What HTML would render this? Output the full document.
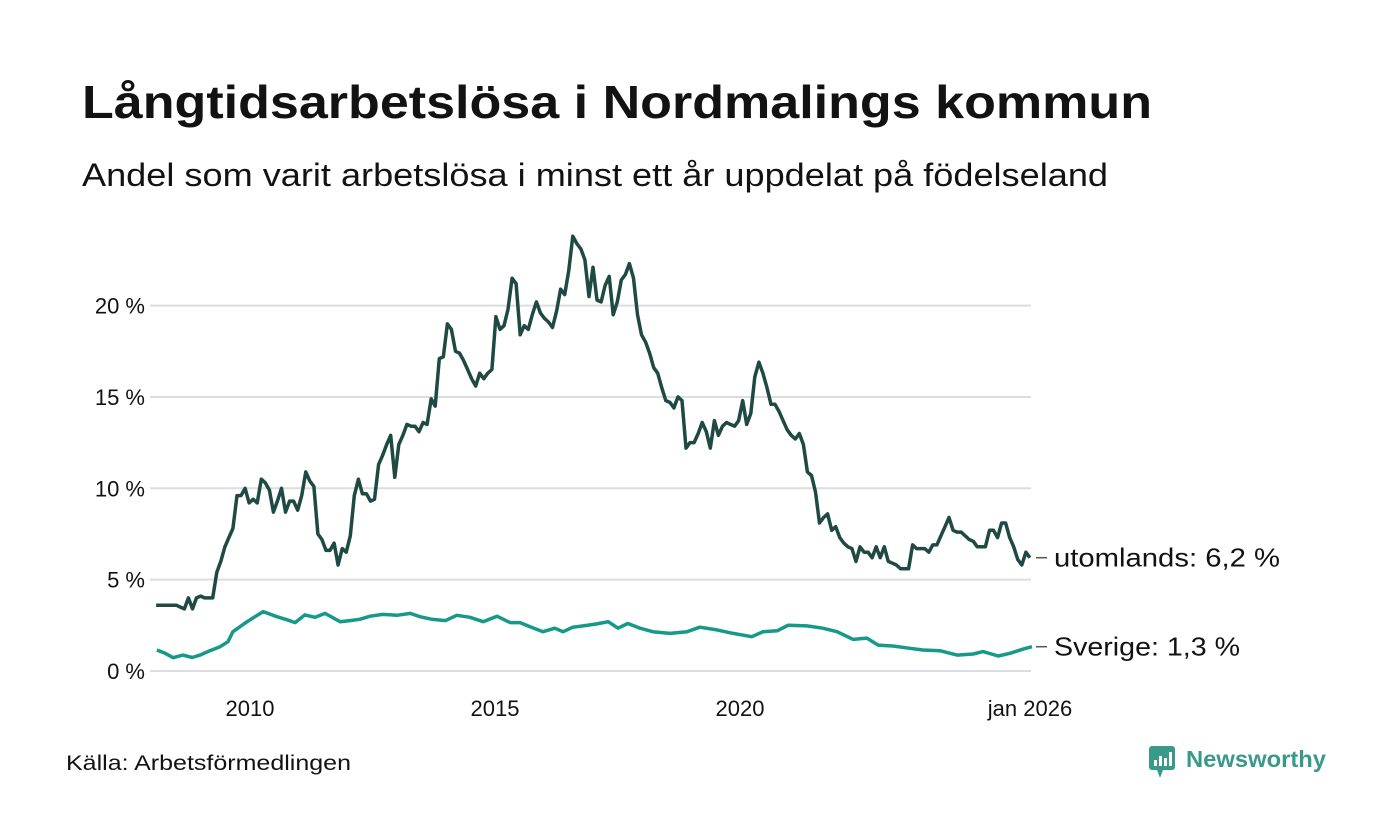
<!DOCTYPE html>
<html><head><meta charset="utf-8">
<style>
body{margin:0;background:#fff;font-family:"Liberation Sans",sans-serif;}
#wrap{position:relative;width:1400px;height:840px;overflow:hidden;background:#fff;}
</style></head>
<body>
<div id="wrap">
<svg id="chart" width="1400" height="840">
<text x="82" y="118" font-size="46" font-weight="bold" fill="#121212" textLength="1070" lengthAdjust="spacingAndGlyphs">Långtidsarbetslösa i Nordmalings kommun</text>
<text x="82" y="186" font-size="32" fill="#121212" textLength="1026" lengthAdjust="spacingAndGlyphs">Andel som varit arbetslösa i minst ett år uppdelat på födelseland</text>
<g id="grid"></g>
<g id="yticks"></g>
<g id="xticks"></g>
<g id="lines"></g>
<g id="labels"></g>
<text x="66" y="770" font-size="21" fill="#121212" textLength="285" lengthAdjust="spacingAndGlyphs">Källa: Arbetsförmedlingen</text>
<g>
<rect x="1149" y="746" width="26" height="24" rx="3" fill="#3a9a8a"/>
<polygon points="1157,770 1163,770 1160,778" fill="#3a9a8a"/>
<rect x="1154" y="760" width="3" height="6" fill="#fff"/><rect x="1159" y="756" width="3" height="10" fill="#fff"/><rect x="1164" y="758" width="3" height="8" fill="#fff"/><rect x="1169" y="752" width="3" height="14" fill="#fff"/>
<text x="1186" y="767" font-size="23" font-weight="bold" fill="#3a9a8a" textLength="140" lengthAdjust="spacingAndGlyphs">Newsworthy</text>
</g>
</svg>
</div>
<script>
const yTickValues=[0,5,10,15,20];
const yTickLabels=["0 %","5 %","10 %","15 %","20 %"];
const xTickValues=[2010,2015,2020,2026];
const xTickLabels=["2010","2015","2020","jan 2026"];
const foreignStart=2008+1/12;
const foreignEnd=2025+11/12;
const foreignValues=[3.6,3.6,3.6,3.6,3.6,3.6,3.5,3.4,4.0,3.4,4.0,4.1,4.0,4.0,4.0,
5.4,6.0,6.8,7.3,7.8,9.6,9.6,10.0,9.2,9.4,
9.2,10.5,10.3,9.9,8.7,9.3,10.0,8.7,9.3,9.3,
8.8,9.6,10.9,10.4,10.1,7.5,7.2,6.6,6.6,7.0,
5.8,6.7,6.5,7.4,9.6,10.5,9.7,9.7,9.3,9.4,
11.3,11.8,12.4,12.9,10.6,12.4,12.9,13.5,13.4,13.4,
13.1,13.6,13.5,14.9,14.5,17.1,17.2,19.0,18.7,17.5,
17.4,17.0,16.5,16.0,15.6,16.3,16.0,16.3,16.5,19.4,
18.7,18.9,19.8,21.5,21.2,18.4,18.9,18.7,19.5,20.2,
19.6,19.3,19.1,18.8,19.7,20.9,20.6,21.9,23.8,23.4,
23.1,22.5,20.5,22.1,20.3,20.2,21.1,21.6,19.5,20.2,
21.4,21.7,22.3,21.5,19.5,18.4,18.0,17.4,16.6,16.3,
15.5,14.8,14.7,14.4,15.0,14.8,12.2,12.5,12.5,13.0,
13.6,13.1,12.2,13.7,12.9,13.4,13.6,13.5,13.4,13.7,
14.8,13.5,14.1,16.1,16.9,16.3,15.5,14.6,14.6,14.2,
13.7,13.2,12.9,12.7,13.0,12.4,10.9,10.7,9.8,8.1,
8.4,8.6,7.7,7.9,7.3,7.0,6.8,6.7,6.0,6.8,
6.5,6.5,6.2,6.8,6.2,6.8,6.0,5.9,5.8,5.6,
5.6,5.6,6.9,6.7,6.7,6.7,6.5,6.9,6.9,7.4,
7.9,8.4,7.7,7.6,7.6,7.4,7.2,7.1,6.8,6.8,
6.8,7.7,7.7,7.3,8.1,8.1,7.3,6.8,6.1,5.8,
6.5,6.2];
const swedenDates=[2008.10,2008.27,2008.43,2008.63,2008.82,2008.98,2009.18,2009.39,2009.55,2009.65,
2009.94,2010.27,2010.55,2010.76,2010.92,2011.12,2011.33,2011.53,2011.84,2012.04,
2012.24,2012.45,2012.71,2013.00,2013.27,2013.47,2013.71,2013.99,2014.22,2014.49,
2014.76,2015.04,2015.31,2015.51,2015.71,2015.98,2016.22,2016.39,2016.59,2016.80,
2017.08,2017.31,2017.51,2017.71,2017.96,2018.22,2018.57,2018.92,2019.18,2019.53,
2019.86,2020.24,2020.47,2020.76,2020.98,2021.37,2021.69,2021.98,2022.31,2022.59,
2022.82,2023.12,2023.47,2023.73,2024.08,2024.43,2024.76,2024.96,2025.27,2025.51,
2025.78,2025.96];
const swedenValues=[1.15,0.97,0.73,0.87,0.74,0.87,1.11,1.33,1.6,2.15,
2.7,3.25,2.97,2.8,2.65,3.07,2.94,3.15,2.7,2.76,
2.83,3.0,3.1,3.05,3.15,2.97,2.83,2.76,3.05,2.94,
2.7,3.0,2.65,2.65,2.43,2.15,2.34,2.15,2.4,2.47,
2.58,2.7,2.34,2.6,2.34,2.15,2.06,2.15,2.4,2.25,
2.06,1.88,2.15,2.2,2.5,2.47,2.34,2.15,1.73,1.8,
1.42,1.37,1.24,1.15,1.11,0.87,0.93,1.06,0.82,0.97,
1.2,1.33];
const foreignLabel="utomlands: 6,2 %";
const swedenLabel="Sverige: 1,3 %";

const NS="http://www.w3.org/2000/svg";
function xS(t){return 250+(t-2010)*49;}
function yS(v){return 671-v*18.27;}
function mk(tag,attrs,parent){const e=document.createElementNS(NS,tag);for(const k in attrs)e.setAttribute(k,attrs[k]);parent.appendChild(e);return e;}

const grid=document.getElementById('grid'),yt=document.getElementById('yticks'),xt=document.getElementById('xticks');
yTickValues.forEach((v,i)=>{
  const l=mk('line',{x1:150,x2:1031,y1:yS(v),y2:yS(v),stroke:'#dcdce3','stroke-width':2},grid);
  
  
  const t=mk('text',{x:145,y:yS(v)+8,'font-size':22,'text-anchor':'end',fill:'#121212'},yt);
  t.textContent=yTickLabels[i];
  
  
});
xTickValues.forEach((v,i)=>{
  const t=mk('text',{x:xS(v)-(i==3?4:0),y:716,'font-size':22,'text-anchor':'middle',fill:'#121212'},xt);
  t.textContent=xTickLabels[i];
  
  
});
const lines=document.getElementById('lines');
const n=foreignValues.length;
const step=(foreignEnd-foreignStart)/(n-1);
const fp=foreignValues.map((v,i)=>xS(foreignStart+i*step).toFixed(1)+','+yS(v).toFixed(1)).join(' ');
const sp=swedenValues.map((v,i)=>xS(swedenDates[i]).toFixed(1)+','+yS(v).toFixed(1)).join(' ');
const l2=mk('polyline',{points:sp,fill:'none',stroke:'#17998a','stroke-width':3.5,'stroke-linejoin':'round'},lines);


const l1=mk('polyline',{points:fp,fill:'none',stroke:'#1f4a44','stroke-width':3.5,'stroke-linejoin':'round'},lines);


const lab=document.getElementById('labels');
[[foreignValues[n-1],foreignLabel,'foreign-born-label',226],[swedenValues[swedenValues.length-1],swedenLabel,'sweden-label',186]].forEach(d=>{
  const y=yS(d[0]);
  const ln=mk('line',{x1:1036,x2:1047,y1:y,y2:y,stroke:'#555','stroke-width':1.5},lab);
  
  
  const t=mk('text',{x:1054,y:y+9,'font-size':26,fill:'#121212',textLength:d[3],lengthAdjust:'spacingAndGlyphs'},lab);
  t.textContent=d[1];
  
  
});
</script>
</body></html>
